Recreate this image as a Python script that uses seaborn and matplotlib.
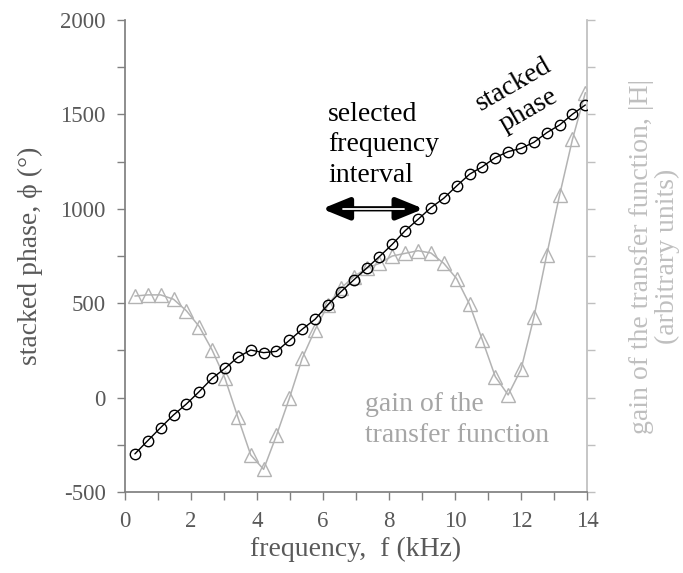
import matplotlib
matplotlib.use("Agg")
import matplotlib.pyplot as plt
import seaborn as sns
import pandas as pd
from matplotlib.ticker import MultipleLocator, NullFormatter

# ---- data ----
freq_khz = [0.30, 0.69, 1.08, 1.47, 1.86, 2.25, 2.64, 3.03, 3.42, 3.81,
            4.20, 4.59, 4.98, 5.37, 5.76, 6.15, 6.54, 6.93, 7.32, 7.71,
            8.10, 8.49, 8.88, 9.27, 9.66, 10.05, 10.44, 10.83, 11.22, 11.61,
            12.00, 12.39, 12.78, 13.17, 13.56, 13.95]
stacked_phase = [-298, -228, -159, -92, -34, 32, 102, 155, 214, 252,
                 238, 245, 303, 362, 415, 492, 560, 623, 685, 747,
                 812, 884, 944, 1006, 1056, 1121, 1183, 1223, 1271, 1303,
                 1320, 1352, 1403, 1444, 1501, 1550]
gain = [538, 544, 544, 521, 460, 376, 252, 102, -104, -304,
        -380, -200, -4, 208, 360, 491, 579, 640, 685, 711,
        750, 764, 778, 766, 711, 630, 494, 305, 111, 14,
        149, 425, 757, 1073, 1368, 1615]

x_ticks = [0, 2, 4, 6, 8, 10, 12, 14]
y_ticks = [-500, 0, 500, 1000, 1500, 2000]

df = pd.DataFrame({"f": freq_khz, "phase": stacked_phase, "gain": gain})

sns.set_theme(style="white")
plt.rcParams["font.family"] = ["Liberation Serif", "DejaVu Serif"]
plt.rcParams["axes.unicode_minus"] = False

DARK = "#595959"
SPINE = "#808080"
LIGHT = "#bfbfbf"
GAIN = "#b3b3b3"

fig = plt.figure(figsize=(6.83, 5.73), dpi=100)
ax = fig.add_axes([125 / 683, 1 - 492 / 573, 462 / 683, 472 / 573])
ax2 = ax.twinx()

# gain (right axis, behind)
sns.lineplot(data=df, x="f", y="gain", ax=ax2, color=GAIN, lw=1.1,
             marker="^", markersize=10, markerfacecolor="none",
             markeredgecolor=GAIN, markeredgewidth=1.0)
# stacked phase (left axis, front)
sns.lineplot(data=df, x="f", y="phase", ax=ax, color="black", lw=1.0,
             marker="o", markersize=7.5, markerfacecolor="none",
             markeredgecolor="black", markeredgewidth=1.0)

ax.set_zorder(ax2.get_zorder() + 1)
ax.patch.set_visible(False)

for a in (ax, ax2):
    a.set_xlim(0, 14)
    a.set_ylim(-500, 2000)

ax.set_xticks(x_ticks)
ax.set_yticks(y_ticks)
ax.xaxis.set_minor_locator(MultipleLocator(1))
ax.yaxis.set_minor_locator(MultipleLocator(250))
ax2.yaxis.set_major_locator(MultipleLocator(250))
ax2.yaxis.set_major_formatter(NullFormatter())

ax.tick_params(axis="both", which="both", direction="out", length=6,
               width=1, color=SPINE, labelcolor=DARK, labelsize=16.5,
               bottom=True, left=True)
ax.tick_params(axis="y", pad=8)
ax.tick_params(axis="x", pad=8)
ax2.tick_params(axis="y", which="both", direction="out", length=6, width=1,
                color=LIGHT, right=True)

for s in ("top", "right"):
    ax.spines[s].set_visible(False)
ax.spines["left"].set_color(SPINE)
ax.spines["bottom"].set_color(SPINE)
ax2.spines["top"].set_visible(False)
ax2.spines["left"].set_visible(False)
ax2.spines["bottom"].set_visible(False)
ax2.spines["right"].set_color(LIGHT)

ax.set_xlabel("frequency,  f (kHz)", fontsize=20, color=DARK, labelpad=3)
ax.set_ylabel("stacked phase, ϕ (°)", fontsize=20, color=DARK, labelpad=12)
ax2.set_ylabel("gain of the transfer function, |H|\n(arbitrary units)",
               fontsize=20, color=LIGHT, labelpad=21, rotation=90,
               va="top", linespacing=1.0)

# annotations
ax.text(6.15, 1338, "selected\nfrequency\ninterval", fontsize=20,
        color="black", ha="left", va="center", linespacing=1.3)
ax.annotate("", xy=(9.05, 1000), xytext=(5.97, 1000),
            arrowprops=dict(arrowstyle="<|-|>,head_length=1.35,head_width=0.55",
                            lw=3.8, color="black", shrinkA=0, shrinkB=0))
ax.plot([6.6, 8.45], [1000, 1000], color="white", lw=1.3, zorder=5)
ax.text(12.0, 1590, "stacked\nphase", fontsize=20, color="black",
        ha="center", va="center", rotation=30, rotation_mode="anchor",
        linespacing=1.3)
ax.text(7.27, -118, "gain of the\ntransfer function", fontsize=20,
        color="#a6a6a6", ha="left", va="center", linespacing=1.3)

fig.savefig("out.png", dpi=100)
